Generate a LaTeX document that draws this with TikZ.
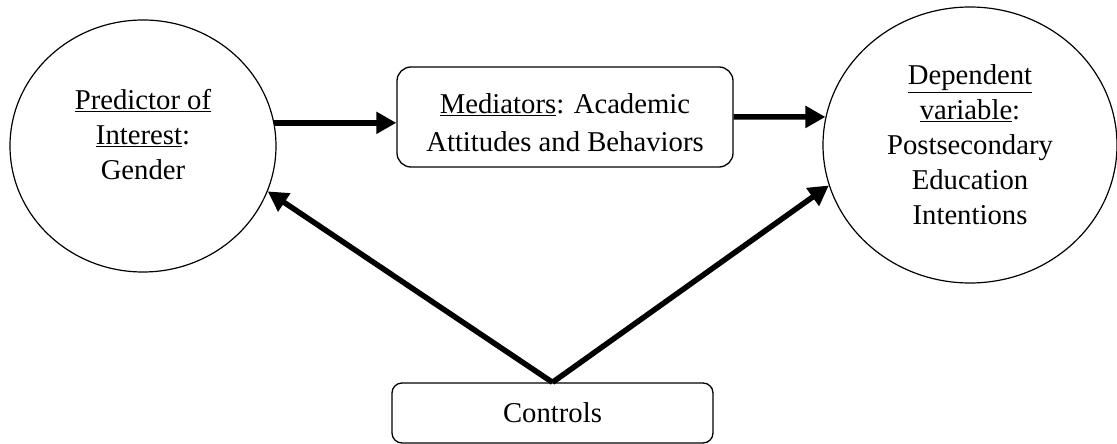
\documentclass[tikz,border=0pt]{standalone}
\usepackage{fontspec}
\setmainfont{Liberation Serif}
\usetikzlibrary{shapes.geometric,arrows.meta}
\begin{document}
\begin{tikzpicture}[x=1pt,y=-1pt,
  every node/.style={font=\fontsize{28.7}{35}\selectfont},
  oval/.style={draw, ellipse, line width=1.2pt, inner sep=0pt},
  rbox/.style={draw, rectangle, rounded corners=14pt, line width=1.3pt, inner sep=0pt},
  txt/.style={align=center, inner sep=0pt},
  arr/.style={line width=5.5pt, -{Triangle[length=20pt,width=21pt]}}]
\useasboundingbox (0,0) rectangle (1117,444);
\node[oval, minimum width=266pt, minimum height=252pt] (pred) at (143,146) {};
\node[txt] (predtxt) at (143,135) {\underline{Predictor of}\\\underline{Interest}:\\Gender};
\node[oval, align=center, minimum width=294pt, minimum height=276pt] (dep) at (970,145)
  {\underline{Dependent}\\\underline{variable}:\\Postsecondary\\Education\\Intentions};
\node[rbox, minimum width=336pt, minimum height=100pt] (med) at (565,117) {};
\node[txt, font=\fontsize{28.7}{38}\selectfont] (medtxt) at (565,123)
  {\underline{Mediators}: Academic\\Attitudes and Behaviors};
\node[rbox, rounded corners=10pt, minimum width=321pt, minimum height=60pt] (ctrl) at (552.5,413) {Controls};
\draw[arr] (pred.10) -- (pred.10 -| med.west);
\draw[arr] (med.east) -- (dep.169);
\draw[arr] (ctrl.north) -- (pred.-20);
\draw[arr] (ctrl.north) -- (dep.196);
\end{tikzpicture}
\end{document}
